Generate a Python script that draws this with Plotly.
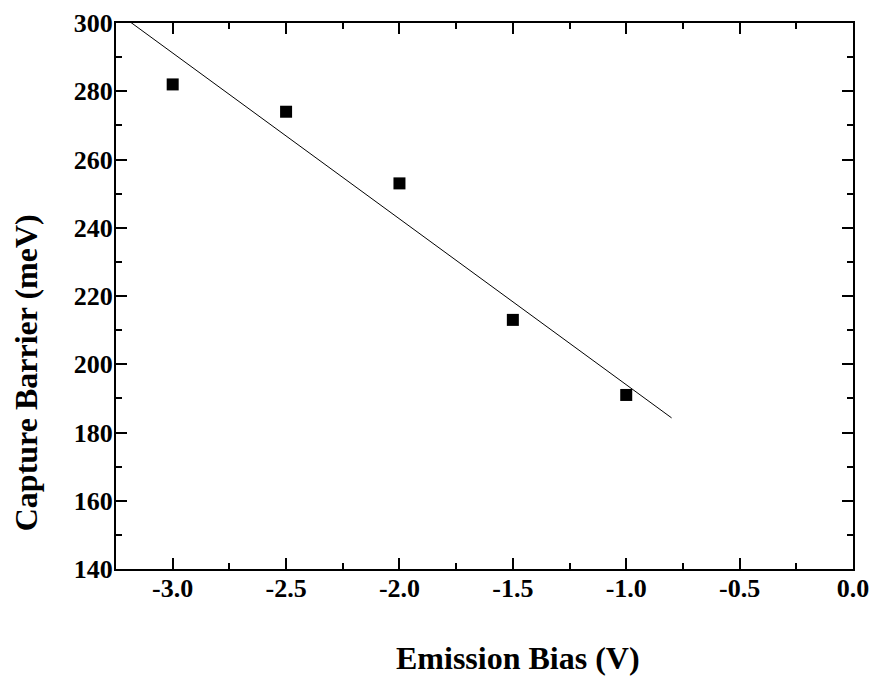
import numpy as np
import plotly.graph_objects as go

# Data
emission_bias = [-3.0, -2.5, -2.0, -1.5, -1.0]          # V
capture_barrier = [282, 274, 253, 213, 191]              # meV
fit_x_range = [-3.2, -0.8]                               # extent of the linear fit line

x_tick_vals = [-3.0, -2.5, -2.0, -1.5, -1.0, -0.5, 0.0]
x_tick_text = ["-3.0", "-2.5", "-2.0", "-1.5", "-1.0", "-0.5", "0.0"]
y_tick_vals = [140, 160, 180, 200, 220, 240, 260, 280, 300]

# Linear fit computed from the data
slope, intercept = np.polyfit(emission_bias, capture_barrier, 1)
fit_x = np.array(fit_x_range)
fit_y = slope * fit_x + intercept

FONT = "Liberation Serif, Times New Roman, serif"

fig = go.Figure()
fig.add_trace(go.Scatter(
    x=fit_x, y=fit_y, mode="lines",
    line=dict(color="black", width=1), showlegend=False, hoverinfo="skip"))
fig.add_trace(go.Scatter(
    x=emission_bias, y=capture_barrier, mode="markers",
    marker=dict(symbol="square", size=12, color="black"), showlegend=False))

axis_common = dict(
    showgrid=False, zeroline=False, showline=True, linecolor="black", linewidth=2,
    mirror="ticks", ticks="inside", ticklen=11, tickwidth=2, tickcolor="black",
    automargin=False,
    tickfont=dict(family=FONT, size=26, color="black", weight="bold"),
)

fig.update_xaxes(
    range=[-3.25, 0.0], tickvals=x_tick_vals, ticktext=x_tick_text,
    ticklabelstandoff=-5,
    minor=dict(dtick=0.25, tick0=0, ticks="inside", ticklen=6, tickwidth=2, tickcolor="black"),
    **axis_common)
fig.update_yaxes(
    range=[140, 300], tickvals=y_tick_vals,
    ticklabelstandoff=-4,
    minor=dict(dtick=10, tick0=0, ticks="inside", ticklen=6, tickwidth=2, tickcolor="black"),
    **axis_common)

fig.add_annotation(
    text="Emission Bias (V)", xref="paper", yref="paper", x=0.545, y=-0.163,
    xanchor="center", yanchor="middle", showarrow=False,
    font=dict(family=FONT, size=32, color="black", weight="bold"))
fig.add_annotation(
    text="Capture Barrier (meV)", xref="paper", yref="paper", x=-0.121, y=0.36,
    xanchor="center", yanchor="middle", showarrow=False, textangle=-90,
    font=dict(family=FONT, size=32, color="black", weight="bold"))

fig.update_layout(
    width=874, height=677, autosize=False,
    margin=dict(l=116, r=21, t=23, b=108, autoexpand=False),
    paper_bgcolor="white", plot_bgcolor="white",
)

fig.write_html("out.html",
               config={"displayModeBar": False, "responsive": False},
               post_script="document.body.style.margin='0px';document.body.style.overflow='hidden';")
